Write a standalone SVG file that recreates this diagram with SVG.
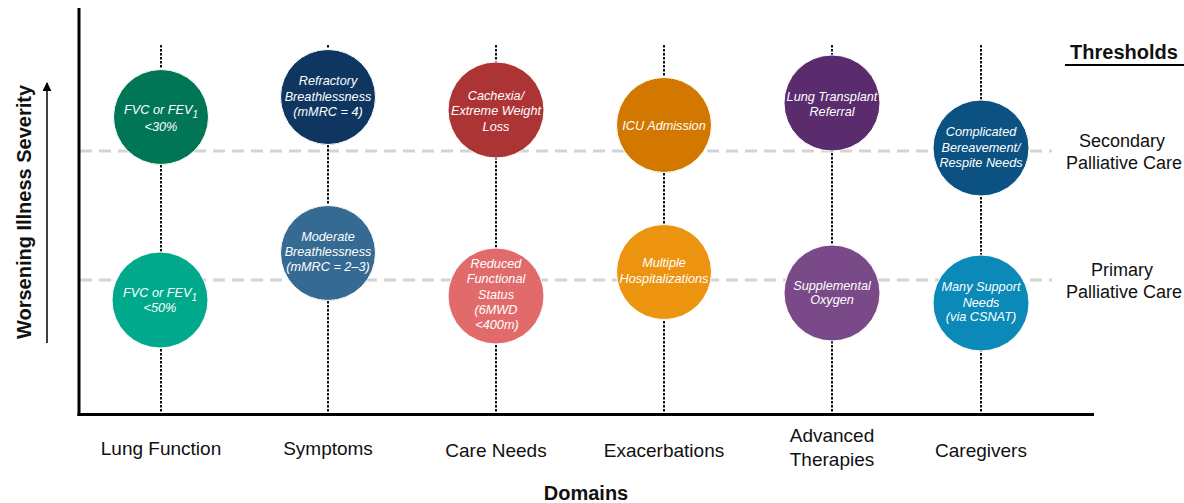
<svg xmlns="http://www.w3.org/2000/svg" width="1184" height="503" viewBox="0 0 1184 503">
<style>
.ax{stroke:#000;stroke-width:3;fill:none}
.dot{stroke:#111;stroke-width:2;stroke-dasharray:2.5 1.5;fill:none}
.thr{stroke:#d4d4d4;stroke-width:3;stroke-dasharray:12 7;fill:none}
.c{stroke:#fff;stroke-width:1}
.t{font-family:"Liberation Sans",Arial,sans-serif;font-style:italic;font-size:12.7px;fill:#fff;text-anchor:middle}
.lab{font-family:"Liberation Sans",Arial,sans-serif;font-size:19px;fill:#111;text-anchor:middle}
.b{font-family:"Liberation Sans",Arial,sans-serif;font-size:20px;font-weight:bold;fill:#111;text-anchor:middle}
.thl{font-family:"Liberation Sans",Arial,sans-serif;font-size:18px;fill:#111;text-anchor:middle}
</style>
<defs>
<marker id="ah" viewBox="0 0 10 10" refX="9" refY="5" markerWidth="6" markerHeight="6" orient="auto">
<path d="M0,0 L10,5 L0,10 z" fill="#000"/>
</marker>
</defs>
<rect width="1184" height="503" fill="#fff"/>
<g id="guides">
<line class="thr" x1="80" y1="151" x2="1052" y2="151"/>
<line class="thr" x1="80" y1="280" x2="1052" y2="280"/>
<line class="dot" x1="161" y1="45" x2="161" y2="413"/>
<line class="dot" x1="328" y1="45" x2="328" y2="413"/>
<line class="dot" x1="496" y1="45" x2="496" y2="413"/>
<line class="dot" x1="664" y1="45" x2="664" y2="413"/>
<line class="dot" x1="832" y1="45" x2="832" y2="413"/>
<line class="dot" x1="981" y1="45" x2="981" y2="413"/>
</g>
<g id="axes">
<line class="ax" x1="79" y1="8" x2="79" y2="416"/>
<line class="ax" x1="77.5" y1="414.5" x2="1094" y2="414.5" stroke-width="3.5"/>
</g>
<g id="connectors">
<line x1="47" y1="343" x2="47" y2="83" stroke="#000" stroke-width="1.5" marker-end="url(#ah)"/>
</g>
<g id="n-fvc30"><circle class="c" cx="161" cy="117" r="47.5" fill="#007657"/>
<text class="t" x="161" y="114">FVC or FEV<tspan font-size="10" dy="4">1</tspan></text><text class="t" x="161" y="130.5">&lt;30%</text></g>
<g id="n-refractory"><circle class="c" cx="328" cy="97" r="47.5" fill="#0e3661"/>
<text class="t" x="328" y="85">Refractory</text><text class="t" x="328" y="100.5">Breathlessness</text><text class="t" x="328" y="116">(mMRC = 4)</text></g>
<g id="n-cachexia"><circle class="c" cx="496" cy="110" r="48" fill="#ad3434"/>
<text class="t" x="496" y="99.5">Cachexia/</text><text class="t" x="496" y="115">Extreme Weight</text><text class="t" x="496" y="130.5">Loss</text></g>
<g id="n-icu"><circle class="c" cx="664" cy="125" r="47.5" fill="#d27800"/>
<text class="t" x="664" y="130">ICU Admission</text></g>
<g id="n-transplant"><circle class="c" cx="832" cy="103" r="48" fill="#5b2c6d"/>
<text class="t" x="832" y="101">Lung Transplant</text><text class="t" x="832" y="115.5">Referral</text></g>
<g id="n-bereavement"><circle class="c" cx="981" cy="148" r="48" fill="#0b5283"/>
<text class="t" x="981" y="136">Complicated</text><text class="t" x="981" y="151.5">Bereavement/</text><text class="t" x="981" y="167">Respite Needs</text></g>
<g id="n-fvc50"><circle class="c" cx="160" cy="300" r="48" fill="#00a98c"/>
<text class="t" x="160" y="297">FVC or FEV<tspan font-size="10" dy="4">1</tspan></text><text class="t" x="160" y="311.5">&lt;50%</text></g>
<g id="n-moderate"><circle class="c" cx="328" cy="253" r="47.5" fill="#356a92"/>
<text class="t" x="328" y="241">Moderate</text><text class="t" x="328" y="256">Breathlessness</text><text class="t" x="328" y="271">(mMRC = 2–3)</text></g>
<g id="n-reduced"><circle class="c" cx="496" cy="296" r="48" fill="#e16b6b"/>
<text class="t" x="496" y="268">Reduced</text><text class="t" x="496" y="283">Functional</text><text class="t" x="496" y="299">Status</text><text class="t" x="496" y="314">(6MWD</text><text class="t" x="497" y="329">&lt;400m)</text></g>
<g id="n-hosp"><circle class="c" cx="664" cy="272" r="47.5" fill="#ec930f"/>
<text class="t" x="664" y="267">Multiple</text><text class="t" x="664" y="282.5">Hospitalizations</text></g>
<g id="n-oxygen"><circle class="c" cx="832" cy="293" r="48" fill="#7a4a88"/>
<text class="t" x="832" y="290">Supplemental</text><text class="t" x="832" y="304">Oxygen</text></g>
<g id="n-support"><circle class="c" cx="981" cy="303" r="48" fill="#0b89b8"/>
<text class="t" x="981" y="291">Many Support</text><text class="t" x="981" y="307">Needs</text><text class="t" x="981" y="321">(via CSNAT)</text></g>
<g id="labels">
<text class="lab" x="161" y="455">Lung Function</text>
<text class="lab" x="328" y="455">Symptoms</text>
<text class="lab" x="496" y="457">Care Needs</text>
<text class="lab" x="664" y="457">Exacerbations</text>
<text class="lab" x="832" y="442">Advanced</text>
<text class="lab" x="832" y="466">Therapies</text>
<text class="lab" x="981" y="457">Caregivers</text>
<text class="b" x="586" y="500">Domains</text>
<text class="b" transform="translate(31,212) rotate(-90)">Worsening Illness Severity</text>
<text class="b" x="1124" y="59">Thresholds</text>
<line x1="1065" y1="65" x2="1184" y2="65" stroke="#000" stroke-width="2"/>
<text class="thl" x="1122" y="147">Secondary</text>
<text class="thl" x="1124" y="169">Palliative Care</text>
<text class="thl" x="1122" y="276">Primary</text>
<text class="thl" x="1124" y="298">Palliative Care</text>
</g>
</svg>
